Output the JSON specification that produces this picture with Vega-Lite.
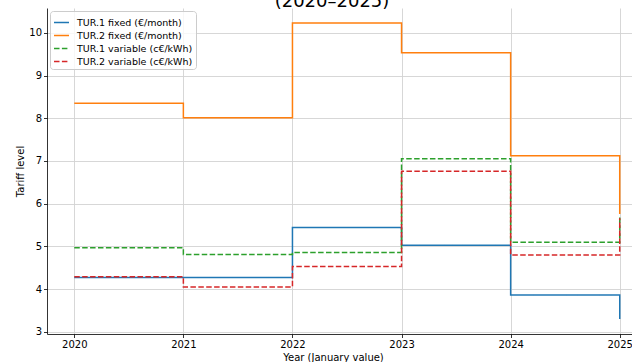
{
  "$schema": "https://vega.github.io/schema/vega-lite/v6.json",
  "autosize": "none",
  "width": 600,
  "height": 326,
  "padding": {"left": 47, "top": 8, "right": 0, "bottom": 28},
  "background": "white",
  "title": {
    "text": "(2020–2025)",
    "font": "DejaVu Sans",
    "fontSize": 18,
    "fontWeight": "normal",
    "color": "#000000",
    "anchor": "middle",
    "dx": -15,
    "dy": 21,
    "offset": 0,
    "baseline": "bottom"
  },
  "config": {
    "view": {"stroke": null},
    "font": "DejaVu Sans",
    "axis": {
      "domainColor": "#000000",
      "domainWidth": 0.8,
      "tickColor": "#000000",
      "tickWidth": 0.8,
      "tickSize": 3.5,
      "labelFont": "DejaVu Sans",
      "labelFontSize": 10,
      "labelColor": "#000000",
      "labelPadding": 2,
      "titleFont": "DejaVu Sans",
      "titleFontSize": 10,
      "titleFontWeight": "normal",
      "titleColor": "#000000",
      "gridColor": "#d3d3d3",
      "gridWidth": 0.9
    },
    "legend": {
      "labelFont": "DejaVu Sans",
      "labelFontSize": 9.5,
      "labelColor": "#000000"
    }
  },
  "data": {
    "values": [
      {"year": 2020, "series": "TUR.1 fixed (€/month)", "value": 4.27},
      {"year": 2021, "series": "TUR.1 fixed (€/month)", "value": 4.27},
      {"year": 2022, "series": "TUR.1 fixed (€/month)", "value": 5.44},
      {"year": 2023, "series": "TUR.1 fixed (€/month)", "value": 5.03},
      {"year": 2024, "series": "TUR.1 fixed (€/month)", "value": 3.86},
      {"year": 2025, "series": "TUR.1 fixed (€/month)", "value": 3.30},
      {"year": 2020, "series": "TUR.2 fixed (€/month)", "value": 8.35},
      {"year": 2021, "series": "TUR.2 fixed (€/month)", "value": 8.01},
      {"year": 2022, "series": "TUR.2 fixed (€/month)", "value": 10.23},
      {"year": 2023, "series": "TUR.2 fixed (€/month)", "value": 9.53},
      {"year": 2024, "series": "TUR.2 fixed (€/month)", "value": 7.12},
      {"year": 2025, "series": "TUR.2 fixed (€/month)", "value": 5.76},
      {"year": 2020, "series": "TUR.1 variable (c€/kWh)", "value": 4.97},
      {"year": 2021, "series": "TUR.1 variable (c€/kWh)", "value": 4.81},
      {"year": 2022, "series": "TUR.1 variable (c€/kWh)", "value": 4.86},
      {"year": 2023, "series": "TUR.1 variable (c€/kWh)", "value": 7.05},
      {"year": 2024, "series": "TUR.1 variable (c€/kWh)", "value": 5.10},
      {"year": 2025, "series": "TUR.1 variable (c€/kWh)", "value": 5.72},
      {"year": 2020, "series": "TUR.2 variable (c€/kWh)", "value": 4.29},
      {"year": 2021, "series": "TUR.2 variable (c€/kWh)", "value": 4.05},
      {"year": 2022, "series": "TUR.2 variable (c€/kWh)", "value": 4.53},
      {"year": 2023, "series": "TUR.2 variable (c€/kWh)", "value": 6.76},
      {"year": 2024, "series": "TUR.2 variable (c€/kWh)", "value": 4.80},
      {"year": 2025, "series": "TUR.2 variable (c€/kWh)", "value": 5.66}
    ]
  },
  "mark": {"type": "line", "interpolate": "step-after", "strokeWidth": 1.5},
  "encoding": {
    "x": {
      "field": "year",
      "type": "quantitative",
      "scale": {"domain": [2019.75, 2025.25], "nice": false, "zero": false},
      "axis": {
        "title": "Year (January value)",
        "values": [2020, 2021, 2022, 2023, 2024, 2025],
        "format": "d",
        "titleX": 286,
        "titlePadding": 3
      }
    },
    "y": {
      "field": "value",
      "type": "quantitative",
      "scale": {"domain": [2.95, 10.58], "nice": false, "zero": false},
      "axis": {
        "title": "Tariff level",
        "values": [3, 4, 5, 6, 7, 8, 9, 10],
        "titlePadding": 3
      }
    },
    "color": {
      "field": "series",
      "type": "nominal",
      "sort": null,
      "scale": {
        "domain": ["TUR.1 fixed (€/month)", "TUR.2 fixed (€/month)", "TUR.1 variable (c€/kWh)", "TUR.2 variable (c€/kWh)"],
        "range": ["#1f77b4", "#ff7f0e", "#2ca02c", "#d62728"]
      },
      "legend": {
        "title": null,
        "orient": "top-left",
        "offset": 3,
        "fillColor": "rgba(255,255,255,0.8)",
        "strokeColor": "#cccccc",
        "cornerRadius": 3,
        "padding": 3,
        "symbolSize": 225,
        "symbolStrokeWidth": 1.5,
        "rowPadding": 0,
        "labelOffset": 7
      }
    },
    "strokeDash": {
      "field": "series",
      "type": "nominal",
      "sort": null,
      "scale": {
        "domain": ["TUR.1 fixed (€/month)", "TUR.2 fixed (€/month)", "TUR.1 variable (c€/kWh)", "TUR.2 variable (c€/kWh)"],
        "range": [[1, 0], [1, 0], [5.5, 2.4], [5.5, 2.4]]
      },
      "legend": null
    }
  }
}
